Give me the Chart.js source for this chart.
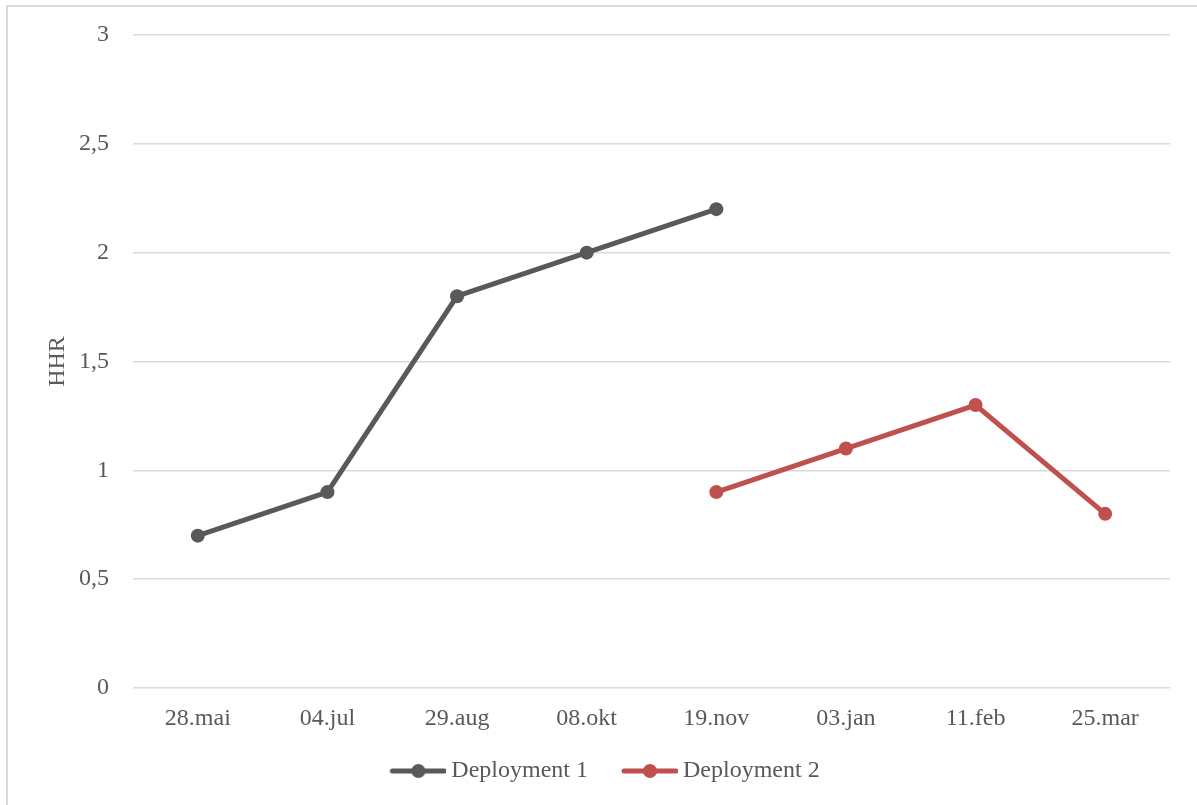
<!DOCTYPE html>
<html>
<head>
<meta charset="utf-8">
<script src="https://cdn.jsdelivr.net/npm/chart.js@4"></script>
<style>
  html, body { margin: 0; padding: 0; background: #fff; overflow: hidden; }
  #frame {
    position: absolute; left: 6px; top: 5px; width: 1300px; height: 900px;
    border-left: 2px solid #d9d9d9; border-top: 2px solid #d9d9d9;
  }
  #wrap { position: absolute; left: 0; top: 0; width: 1197px; height: 805px; }
</style>
</head>
<body>
<div id="frame"></div>
<div id="wrap"><canvas id="chart" width="1197" height="805"></canvas></div>
<script>
// Sampling dates and HHR readings for the two deployments
const categories = ['28.mai', '04.jul', '29.aug', '08.okt', '19.nov', '03.jan', '11.feb', '25.mar'];
const deployment1 = [0.7, 0.9, 1.8, 2.0, 2.2, null, null, null];
const deployment2 = [null, null, null, null, 0.9, 1.1, 1.3, 0.8];
const yTickValues = [0, 0.5, 1, 1.5, 2, 2.5, 3];

const seriesNames = ['Deployment 1', 'Deployment 2'];
const seriesColors = ['#595959', '#c0504d'];
const textColor = '#595959';
const fontFamily = '"Liberation Serif", "DejaVu Serif", serif';

// Legend marker: a short line with a dot; the image is wider than the
// legend box so the line ends just before its label
function legendMarker(color) {
  const c = document.createElement('canvas');
  c.width = 63; c.height = 16;
  const g = c.getContext('2d');
  g.strokeStyle = color;
  g.lineWidth = 5;
  g.lineCap = 'round';
  g.beginPath();
  g.moveTo(9, 8); g.lineTo(61, 8);
  g.stroke();
  g.fillStyle = color;
  g.beginPath();
  g.arc(35, 8, 7, 0, Math.PI * 2);
  g.fill();
  return c;
}

// The x axis box is kept short so the legend sits close below it; after
// layout its bottom is extended so the tick labels are not clipped
const extendXAxis = {
  id: 'extendXAxis',
  afterLayout(chart) {
    const x = chart.scales.x;
    x.bottom = x.top + 60;
    x.height = 60;
  }
};

new Chart(document.getElementById('chart'), {
  type: 'line',
  data: {
    labels: categories,
    datasets: [deployment1, deployment2].map((values, i) => ({
      label: seriesNames[i],
      data: values,
      borderColor: seriesColors[i],
      backgroundColor: seriesColors[i],
      borderWidth: 5,
      pointRadius: 7,
      pointHoverRadius: 7,
      pointBorderWidth: 0,
      pointBackgroundColor: seriesColors[i],
      tension: 0,
      spanGaps: false
    }))
  },
  plugins: [extendXAxis],
  options: {
    responsive: false,
    animation: false,
    events: [],
    layout: { padding: { left: 40, right: 27, top: 35, bottom: 12 } },
    plugins: {
      tooltip: { enabled: false },
      legend: {
        position: 'bottom',
        labels: {
          usePointStyle: true,
          pointStyleWidth: 49,
          padding: 34,
          color: textColor,
          font: { family: fontFamily, size: 24 },
          generateLabels(chart) {
            return chart.data.datasets.map((ds, i) => ({
              text: ds.label,
              pointStyle: legendMarker(seriesColors[i]),
              fontColor: textColor,
              datasetIndex: i,
              hidden: false,
              lineWidth: 0
            }));
          }
        }
      }
    },
    scales: {
      x: {
        offset: true,
        grid: { display: false, drawTicks: false },
        border: { display: false },
        ticks: {
          padding: 16,
          color: textColor,
          font: { family: fontFamily, size: 24 },
          maxRotation: 0
        },
        afterFit(scale) {
          scale.height = 37;
          scale.paddingLeft = 0;
          scale.paddingRight = 0;
        }
      },
      y: {
        min: 0,
        max: 3,
        afterBuildTicks(scale) { scale.ticks = yTickValues.map(v => ({ value: v })); },
        grid: { color: '#d9d9d9', lineWidth: 1.5, drawTicks: false },
        border: { display: false },
        ticks: {
          padding: 24,
          color: textColor,
          font: { family: fontFamily, size: 24 },
          callback: v => String(v).replace('.', ',')
        },
        title: {
          display: true,
          text: 'HHR',
          color: textColor,
          font: { family: fontFamily, size: 24 },
          padding: { top: 3, bottom: 0 }
        },
        afterFit(scale) {
          scale.width = 93;
          scale.paddingTop = 0;
          scale.paddingBottom = 0;
        }
      }
    }
  }
});
</script>
</body>
</html>
